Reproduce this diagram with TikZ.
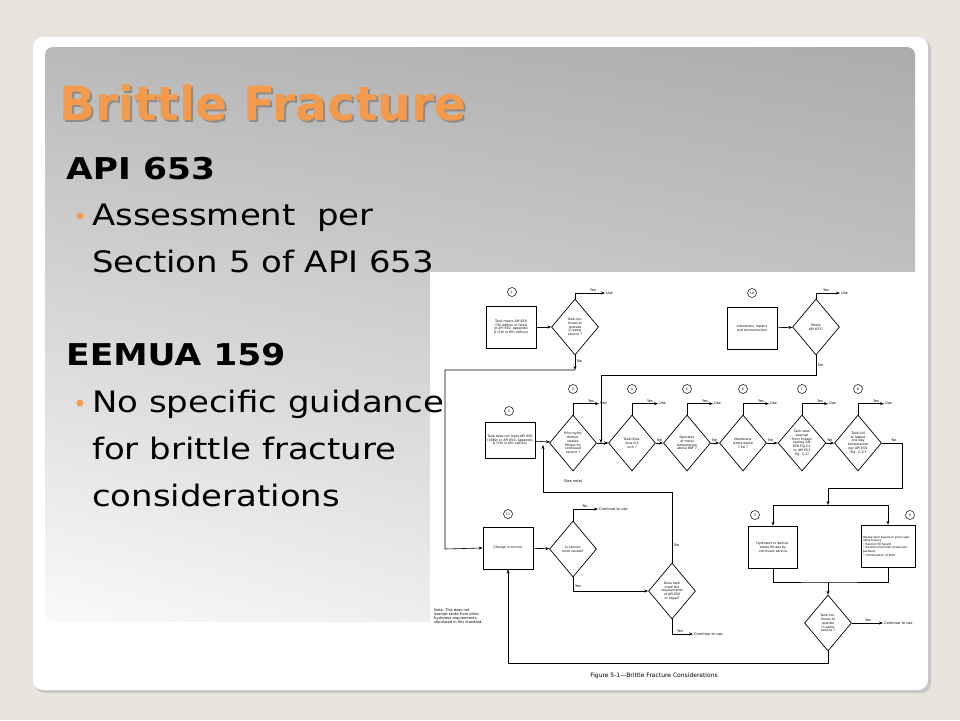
\documentclass[tikz,border=0pt]{standalone}
\usepackage{fontspec}
\setmainfont{DejaVu Sans}
\newfontfamily\slidefont[FakeStretch=1.15]{DejaVu Sans}
\usetikzlibrary{positioning,shapes.geometric,arrows.meta,shadows,shadings}
\definecolor{slidebg}{HTML}{E9E5DD}
\definecolor{titleorange}{HTML}{F39A4C}
\definecolor{bulletorange}{HTML}{F0A050}

\begin{document}
\begin{tikzpicture}[
		x=1pt,y=-1pt,
		fbox/.style={
			draw,
			line width=0.7pt,
			minimum width=50,
			minimum height=42,
			text width=46,
			inner sep=1pt,
			align=center,
			font=\fontsize{3.2}{3.8}\selectfont,
		},
		dia/.style={
			diamond,
			draw,
			line width=0.7pt,
			minimum width=47,
			minimum height=56,
			inner sep=0pt,
			text width=22,
			align=center,
			font=\fontsize{3.2}{3.8}\selectfont,
		},
		num/.style={
			circle,
			draw,
			line width=0.5pt,
			minimum size=9,
			inner sep=0pt,
			font=\fontsize{3.2}{3.8}\selectfont,
		},
		lbl/.style={font=\fontsize{3.6}{4}\selectfont,inner sep=1pt},
		arr/.style={-{Stealth[length=4pt,width=3pt]},line width=0.6pt},
		ln/.style={line width=0.6pt},
		head/.style={anchor=base west,inner sep=0,font=\slidefont\fontsize{30}{30}\bfseries\selectfont},
		body/.style={anchor=base west,inner sep=0,font=\slidefont\fontsize{29.5}{30}\selectfont},
		]
		% Slide background, card and panel
		\useasboundingbox (0,0) rectangle (960,720);
		\fill[slidebg] (0,0) rectangle (960,720);
		\fill[gray!45,rounded corners=10] (35,39) rectangle (931,693);
		\fill[white,rounded corners=10] (33,37) rectangle (928,690);
		\shade[rounded corners=8,upper left=gray!55,upper right=gray!65,lower left=gray!4,lower right=gray!25] (45,47) rectangle (915,622);
		\node[text=gray!60,font=\fontsize{13}{13}\selectfont] (page) at (905,665) {30};
		% Flowchart sheet
		\fill[white] (430,272) rectangle (918,685);
		% Title and text
		\node[anchor=base west,font=\fontsize{47}{50}\bfseries\selectfont,text=black!45,inner sep=0] at (61,122) {Brittle Fracture};
		\node[anchor=base west,font=\fontsize{47}{50}\bfseries\selectfont,text=titleorange,inner sep=0] (title) at (59,120) {Brittle Fracture};
		\node[head] (api) at (66,179) {API 653};
		\node[body] (t1a) at (92,225) {Assessment\ \ per};
		\node[body] (t1b) at (92,272) {Section 5 of API 653};
		\fill[bulletorange] (80,216) circle (3.5);
		\node[head] (eem) at (66,365) {EEMUA 159};
		\node[body] (t2a) at (92,412) {No specific guidance};
		\node[body] (t2b) at (92,459) {for brittle fracture};
		\node[body] (t2c) at (92,506) {considerations};
		\fill[bulletorange] (80,403) circle (3.5);
		% Top row
		\node[num] (n1) at (512,292) {1};
		\node[fbox] (b1) at (511,327) {Tank meets API 650 (7th edition or later) or API 650, Appendix G (5th or 6th edition)};
		\node[dia] (d1) at (575,327) {Tank continues to operate in same service ?};
		\node[num] (n10) at (752,293) {10};
		\node[fbox] (b10) at (752,328) {Alterations, repairs and reconstruction};
		\node[dia] (d10) at (816,327) {Meets API 653?};
		% Second row
		\node[num] (n2) at (509,411) {2};
		\node[fbox,minimum height=36] (b2) at (510,440) {Tank does not meet API 650 (1980) or API 650, Appendix G (5th or 6th edition)};
		\foreach \i/\x/\txt in {3/573/Prior hydro demonstrates fitness for continued service ?,
			4/632/Tank thickness 0.5 inch ?,
			5/687/Operates at metal temperature above 60F ?,
			6/743/Membrane stress below 7 ksi ?,
			7/802/Tank steel exempt from impact testing API 650 Fig 2.1 or API 653 Fig. 5-2?,
			8/858/Tank full at lowest one day temperature per API 650 (Fig. 2-2)?} {
			\node[dia] (d\i) at (\x,443) {\txt};
			\node[num] (n\i) at (\x,389) {\i};
			\draw[arr] (d\i.north) |- ++(26,-11) coordinate (u\i);
			\node[lbl,above] at ([xshift=-8]u\i) {Yes};
			\node[lbl,right] at (u\i) {Use};
		}
		\node[lbl] (seenote) at (573,481) {(See note)};
		\foreach \a/\b in {3/4,4/5,5/6,6/7,7/8} {
			\draw[arr] (d\a) -- (d\b);
		}
		\foreach \a in {4,5,6,7} {
			\node[lbl,above right] at (d\a.east) {No};
		}
		% Lower part
		\node[num] (n11) at (508,514) {11};
		\node[fbox] (b11) at (508,548) {Change in service};
		\node[dia] (d11) at (573,549) {Is service more severe?};
		\node[dia] (d12) at (672,591) {Does tank meet the requirements of API 650 or equal?};
		\node[num] (n3) at (755,515) {3};
		\node[fbox,minimum width=49,text width=40] (b3) at (773,547) {Hydrotest to demonstrate fitness by continued service};
		\node[num] (n9) at (910,515) {9};
		\node[fbox,minimum width=54,text width=50,align=left,font=\fontsize{2.9}{3.6}\selectfont] (b9) at (888,546) {Rerate tank based on prior operating history\\\textbullet\ Restrict fill height\\\textbullet\ Restrict minimum metal temperature\\\textbullet\ Combination of both};
		\node[dia] (d13) at (828,623) {Tank continues to operate in same service ?};
		\node[lbl,align=left,anchor=north west] (note) at (433,608) {Note: This does not\\exempt tanks from other\\hydrotest requirements\\stipulated in this standard.};
		\node[font=\fontsize{6}{6}\selectfont] (cap) at (654,676) {Figure 5-1---Brittle Fracture Considerations};
		% Connectors
		\draw[arr] (b1) -- (d1);
		\draw[arr] (d1.north) |- (605,293) coordinate (u1);
		\node[lbl,above] at (593,293) {Yes};
		\node[lbl,right] at (u1) {Use};
		\coordinate (j1) at (575,370);
		\draw[arr] (d1.south) -- (j1);
		\node[lbl,right] at (576,361) {No};
		\draw[arr] (j1) -- (445,370) -- (445,549) -- (b11.west);
		\draw[arr] (b10) -- (d10);
		\draw[arr] (d10.north) |- (840,293) coordinate (u10);
		\node[lbl,above] at (826,293) {Yes};
		\node[lbl,right] at (u10) {Use};
		\coordinate (j2) at (601,443);
		\draw[arr] (d10.south) -- (816,375) -- (601,375) -- (j2);
		\node[lbl,right] at (817,365) {No};
		\draw[arr] (b2) -- (d3);
		\draw[ln] (d3) -- (j2);
		\draw[arr] (j2) -- (d4);
		\draw[ln] (d8.east) -- (902,443) -- (902,488) -- (828,488);
		\node[lbl,above] at (894,443) {No};
		\coordinate (j3) at (828,505);
		\draw[arr] (828,488) -- (j3);
		\draw[ln] (773,505) -- (888,505);
		\draw[arr] (773,505) -- (b3.north);
		\draw[arr] (888,505) -- (b9.north);
		\coordinate (j4) at (828,582);
		\draw[ln] (b3.south) |- (j4) -| (b9.south);
		\draw[arr] (j4) -- (d13.north);
		\draw[arr] (d13.east) -- (883,623) coordinate (u13);
		\node[lbl,above] at (868,623) {Yes};
		\node[lbl,right] at (u13) {Continue to use};
		\draw[arr] (d13.south) -- (828,663) -- (508,663) -- (b11.south);
		\draw[arr] (b11) -- (d11);
		\draw[arr] (d11.north) |- (598,509) coordinate (u11);
		\node[lbl,above] at (585,509) {No};
		\node[lbl,right] at (u11) {Continue to use};
		\draw[arr] (d11.south) |- (d12.west);
		\node[lbl,right] at (574,586) {Yes};
		\coordinate (j5) at (543,445);
		\draw[arr] (d12.north) -- (672,492) -- (543,492) -- (j5);
		\node[lbl,right] at (673,545) {No};
		\draw[arr] (d12.south) |- (693,634) coordinate (u12);
		\node[lbl,above] at (680,634) {Yes};
		\node[lbl,right] at (u12) {Continue to use};
	\end{tikzpicture}
\end{document}
